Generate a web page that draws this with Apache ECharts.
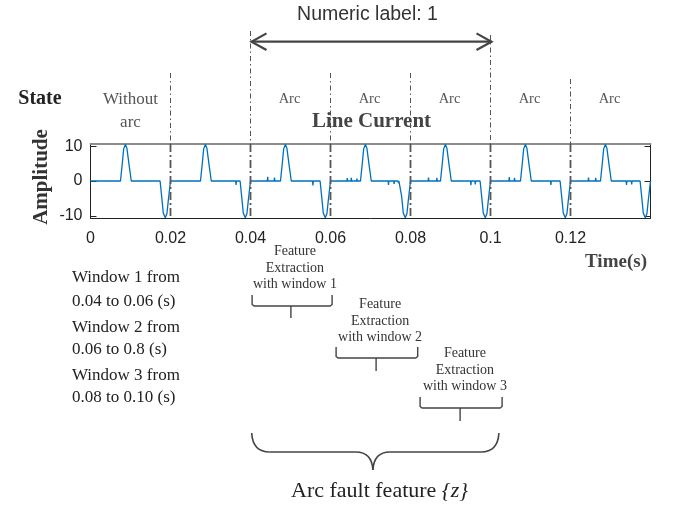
<!DOCTYPE html>
<html><head><meta charset="utf-8">
<script src="https://cdn.jsdelivr.net/npm/echarts@6/dist/echarts.min.js"></script>
<style>html,body{margin:0;padding:0;background:#fff}#c{width:676px;height:512px}</style>
</head><body><div id="c"></div>
<script>
// ---- DATA ----
const time = [
  0, 0.0075, 0.0079, 0.0083, 0.0087, 0.0091, 0.0096, 0.0102,
  0.0174, 0.0178, 0.0182, 0.0187, 0.0191, 0.0195, 0.0200,
  0.0275, 0.0279, 0.0283, 0.0287, 0.0291, 0.0296, 0.0302,
  0.0363, 0.0364, 0.0365,
  0.0374, 0.0378, 0.0382, 0.0387, 0.0391, 0.0395, 0.0400,
  0.0442, 0.0443, 0.0444, 0.0459, 0.0460, 0.0461,
  0.0475, 0.0479, 0.0483, 0.0487, 0.0491, 0.0496, 0.0502,
  0.0555, 0.0556, 0.0557,
  0.0574, 0.0578, 0.0582, 0.0587, 0.0591, 0.0595, 0.0600,
  0.0641, 0.0642, 0.0643, 0.0651, 0.0652, 0.0653, 0.0665, 0.0666, 0.0667,
  0.0675, 0.0679, 0.0683, 0.0687, 0.0691, 0.0696, 0.0702,
  0.0744, 0.0745, 0.0746, 0.0758, 0.0759, 0.0760, 0.0769, 0.0770, 0.0771,
  0.0774, 0.0778, 0.0782, 0.0787, 0.0791, 0.0795, 0.0800,
  0.0844, 0.0845, 0.0846, 0.0865, 0.0866, 0.0867,
  0.0875, 0.0879, 0.0883, 0.0887, 0.0891, 0.0896, 0.0902,
  0.0950, 0.0951, 0.0952, 0.0961, 0.0962, 0.0963,
  0.0974, 0.0978, 0.0982, 0.0987, 0.0991, 0.0995, 0.1000,
  0.1046, 0.1047, 0.1048, 0.1059, 0.1060, 0.1061,
  0.1075, 0.1079, 0.1083, 0.1087, 0.1091, 0.1096, 0.1102,
  0.1150, 0.1151, 0.1152,
  0.1174, 0.1178, 0.1182, 0.1187, 0.1191, 0.1195, 0.1200,
  0.1244, 0.1245, 0.1246, 0.1262, 0.1263, 0.1264,
  0.1275, 0.1279, 0.1283, 0.1287, 0.1291, 0.1296, 0.1302,
  0.1339, 0.1340, 0.1341, 0.1352, 0.1353, 0.1354,
  0.1374, 0.1378, 0.1382, 0.1387, 0.1391, 0.1395, 0.1400
];
const current = [
  0, 0, 4.5, 9.2, 10.5, 9.4, 5, 0,
  0, -4.5, -9.2, -10.5, -9.4, -5, 0,
  0, 4.5, 9.2, 10.5, 9.4, 5, 0,
  0, -1.1, 0,
  0, -4.5, -9.2, -10.5, -9.4, -5, 0,
  0, 1.2, 0, 0, 1.0, 0,
  0, 4.5, 9.2, 10.5, 9.4, 5, 0,
  0, -1.3, 0,
  0, -4.5, -9.2, -10.5, -9.4, -5, 0,
  0, 0.8, 0, 0, 0.9, 0, 0, 0.7, 0,
  0, 4.5, 9.2, 10.5, 9.4, 5, 0,
  0, -1.1, 0, 0, -0.8, 0, 0, -0.6, 0,
  0, -4.5, -9.2, -10.5, -9.4, -5, 0,
  0, 1.0, 0, 0, 0.9, 0,
  0, 4.5, 9.2, 10.5, 9.4, 5, 0,
  0, -1.2, 0, 0, -1.0, 0,
  0, -4.5, -9.2, -10.5, -9.4, -5, 0,
  0, 1.1, 0, 0, 0.9, 0,
  0, 4.5, 9.2, 10.5, 9.4, 5, 0,
  0, -1.1, 0,
  0, -4.5, -9.2, -10.5, -9.4, -5, 0,
  0, 1.0, 0, 0, 0.9, 0,
  0, 4.5, 9.2, 10.5, 9.4, 5, 0,
  0, -1.1, 0, 0, -1.0, 0,
  0, -4.5, -9.2, -10.5, -9.4, -5, 0
];
const xTickValues = [0, 0.02, 0.04, 0.06, 0.08, 0.1, 0.12];
const xTickLabels = ['0', '0.02', '0.04', '0.06', '0.08', '0.1', '0.12'];
const yTickValues = [-10, 0, 10];
const yTickLabels = ['-10', '0', '10'];
const boundaryTimes = [0.02, 0.04, 0.06, 0.08, 0.1, 0.12];
const stateTimes = [0.01, 0.05, 0.07, 0.09, 0.11, 0.13];
const stateLabels = ['Without\narc', 'Arc', 'Arc', 'Arc', 'Arc', 'Arc'];
const windowTexts = ['Window 1 from', '0.04 to 0.06 (s)', 'Window 2 from', '0.06 to 0.8 (s)', 'Window 3 from', '0.08 to 0.10 (s)'];
const featureTexts = ['Feature\nExtraction\nwith window 1', 'Feature\nExtraction\nwith window 2', 'Feature\nExtraction\nwith window 3'];
const arrowSpan = [0.04, 0.1];

// ---- LAYOUT ----
const SERIF = '"Liberation Serif", "Times New Roman", serif';
const SANS = '"Liberation Sans", Arial, sans-serif';
const boundaryTopY = [73, 31, 73, 73, 35, 79];
const windowBracket = [
  {from: 0.0404, to: 0.0604, stem: 0.0501, text: 0.0511, yTop: 295, yH: 306, yStem: 318, tY: 268},
  {from: 0.0614, to: 0.0818, stem: 0.0714, text: 0.0724, yTop: 347, yH: 358, yStem: 371, tY: 321},
  {from: 0.0824, to: 0.1029, stem: 0.0924, text: 0.0936, yTop: 397, yH: 408, yStem: 421, tY: 370}
];
const windowTextY = [278, 301.5, 327.5, 350, 375.5, 398];

const chart = echarts.init(document.getElementById('c'), null, {renderer: 'canvas'});
const data = time.map((t, i) => [t, current[i]]);
function xLabel(v) {
  const i = xTickValues.findIndex(t => Math.abs(t - v) < 1e-9);
  return i >= 0 ? xTickLabels[i] : '';
}
function yLabel(v) {
  const i = yTickValues.findIndex(t => Math.abs(t - v) < 1e-9);
  return i >= 0 ? yTickLabels[i] : '';
}
chart.setOption({
  animation: false,
  backgroundColor: '#fff',
  grid: {left: 90.5, top: 144, width: 560, height: 74, containLabel: false},
  xAxis: [{
    type: 'value', min: 0, max: 0.14, position: 'bottom',
    axisLine: {show: true, onZero: false, lineStyle: {color: '#222', width: 1}},
    axisTick: {show: false},
    splitLine: {show: false},
    axisLabel: {customValues: xTickValues, formatter: xLabel, color: '#222', fontSize: 16, fontFamily: SANS, margin: 13}
  }, {
    type: 'value', min: 0, max: 0.14, position: 'top',
    axisLine: {show: true, onZero: false, lineStyle: {color: '#8c8c8c', width: 2}},
    axisTick: {show: false}, axisLabel: {show: false}, splitLine: {show: false}
  }],
  yAxis: [{
    type: 'value', min: -10.6, max: 10.6, position: 'left',
    axisLine: {show: true, onZero: false, lineStyle: {color: '#222', width: 1}},
    axisTick: {show: true, inside: true, length: 6, customValues: yTickValues, lineStyle: {color: '#222'}},
    splitLine: {show: false},
    axisLabel: {customValues: yTickValues, formatter: yLabel, color: '#222', fontSize: 16, fontFamily: SANS, margin: 8}
  }, {
    type: 'value', min: -10.6, max: 10.6, position: 'right',
    axisLine: {show: true, onZero: false, lineStyle: {color: '#222', width: 1}},
    axisTick: {show: true, inside: true, length: 6, customValues: yTickValues, lineStyle: {color: '#222'}},
    splitLine: {show: false}, axisLabel: {show: false}
  }],
  series: [{
    type: 'line', data: data, xAxisIndex: 0, yAxisIndex: 0,
    showSymbol: false, symbol: 'none',
    lineStyle: {color: '#0072BD', width: 1.3},
    clip: false, z: 2
  }]
});

function px(t, v) { return chart.convertToPixel({gridIndex: 0}, [t, v]); }
const plotTop = px(0, 10.6)[1];
const plotBottom = px(0, -10.6)[1];

const g = [];
const LINE = '#444';
// boundaries
boundaryTimes.forEach((t, i) => {
  const x = px(t, 0)[0];
  g.push({type: 'line', z: 100, shape: {x1: x, y1: boundaryTopY[i], x2: x, y2: plotTop},
    style: {stroke: '#555', lineWidth: 1, lineDash: [5, 3, 1.5, 3]}});
  g.push({type: 'line', z: 100, shape: {x1: x, y1: plotTop, x2: x, y2: plotBottom},
    style: {stroke: '#555', lineWidth: 1.8, lineDash: [8, 3, 2, 3]}});
});
// arrow
const xa = px(arrowSpan[0], 0)[0] + 1, xb = px(arrowSpan[1], 0)[0] + 1, ya = 41.7;
g.push({type: 'line', z: 100, shape: {x1: xa, y1: ya, x2: xb, y2: ya}, style: {stroke: LINE, lineWidth: 2.2}});
g.push({type: 'polyline', z: 100, shape: {points: [[xa + 15, ya - 8.3], [xa, ya], [xa + 15, ya + 8.3]]}, style: {stroke: LINE, lineWidth: 2.2, fill: null}});
g.push({type: 'polyline', z: 100, shape: {points: [[xb - 15, ya - 8.3], [xb, ya], [xb - 15, ya + 8.3]]}, style: {stroke: LINE, lineWidth: 2.2, fill: null}});
g.push({type: 'text', z: 100, x: (xa + xb) / 2 - 4, y: 15, style: {text: 'Numeric label: 1', font: '19.5px ' + SANS, fill: '#333', align: 'center', verticalAlign: 'middle'}});
// state labels
stateLabels.forEach((s, i) => {
  const x = px(stateTimes[i], 0)[0];
  if (i === 0) {
    g.push({type: 'text', z: 100, x: x, y: 111.5, style: {text: s, font: '17px ' + SERIF, fill: '#555', align: 'center', verticalAlign: 'middle', lineHeight: 23}});
  } else {
    g.push({type: 'text', z: 100, x: x - 1, y: 99, style: {text: s, font: '14.5px ' + SERIF, fill: '#555', align: 'center', verticalAlign: 'middle'}});
  }
});
g.push({type: 'text', z: 100, x: 40, y: 99, style: {text: 'State', font: 'bold 20px ' + SERIF, fill: '#222', align: 'center', verticalAlign: 'middle'}});
g.push({type: 'text', z: 100, x: 371.5, y: 122, style: {text: 'Line Current', font: 'bold 21px ' + SERIF, fill: '#444', align: 'center', verticalAlign: 'middle'}});
g.push({type: 'text', z: 100, x: 41.5, y: 177, rotation: Math.PI / 2, style: {text: 'Amplitude', font: 'bold 21px ' + SERIF, fill: '#333', align: 'center', verticalAlign: 'middle'}});
g.push({type: 'text', z: 100, x: 616, y: 262, style: {text: 'Time(s)', font: 'bold 19px ' + SERIF, fill: '#444', align: 'center', verticalAlign: 'middle'}});
// window texts
windowTexts.forEach((s, i) => {
  g.push({type: 'text', z: 100, x: 72, y: windowTextY[i], style: {text: s, font: '17px ' + SERIF, fill: '#222', align: 'left', verticalAlign: 'middle'}});
});
// feature brackets
windowBracket.forEach((b, i) => {
  const x1 = px(b.from, 0)[0], x2 = px(b.to, 0)[0], xm = px(b.stem, 0)[0], xt = px(b.text, 0)[0];
  g.push({type: 'polyline', z: 100, shape: {points: [[x1, b.yTop], [x1, b.yH - 1.5], [x1 + 2, b.yH], [x2 - 2, b.yH], [x2, b.yH - 1.5], [x2, b.yTop]]},
    style: {stroke: LINE, lineWidth: 1.4, fill: null}});
  g.push({type: 'line', z: 100, shape: {x1: xm, y1: b.yH, x2: xm, y2: b.yStem}, style: {stroke: LINE, lineWidth: 1.4}});
  g.push({type: 'text', z: 100, x: xt, y: b.tY, style: {text: featureTexts[i], font: '14px ' + SERIF, fill: '#333', align: 'center', verticalAlign: 'middle', lineHeight: 16.5}});
});
// big brace
const bL = px(0.0403, 0)[0], bR = px(0.1021, 0)[0], bM = px(0.0706, 0)[0];
const bTop = 433, bH = 452, bTip = 470;
const braceStyle = {stroke: LINE, lineWidth: 1.6, fill: null};
g.push({type: 'bezierCurve', z: 100, shape: {x1: bL, y1: bTop, cpx1: bL + 1, cpy1: bH, x2: bL + 18, y2: bH}, style: braceStyle});
g.push({type: 'line', z: 100, shape: {x1: bL + 18, y1: bH, x2: bM - 17, y2: bH}, style: braceStyle});
g.push({type: 'bezierCurve', z: 100, shape: {x1: bM - 17, y1: bH, cpx1: bM - 1, cpy1: bH, x2: bM, y2: bTip}, style: braceStyle});
g.push({type: 'bezierCurve', z: 100, shape: {x1: bM, y1: bTip, cpx1: bM + 1, cpy1: bH, x2: bM + 17, y2: bH}, style: braceStyle});
g.push({type: 'line', z: 100, shape: {x1: bM + 17, y1: bH, x2: bR - 18, y2: bH}, style: braceStyle});
g.push({type: 'bezierCurve', z: 100, shape: {x1: bR - 18, y1: bH, cpx1: bR - 1, cpy1: bH, x2: bR, y2: bTop}, style: braceStyle});
// bottom caption
const meas = document.createElement('canvas').getContext('2d');
const f1 = '22px ' + SERIF, f2 = 'italic 22px ' + SERIF;
meas.font = f1; const w1 = meas.measureText('Arc fault feature ').width;
meas.font = f2; const w2 = meas.measureText('{z}').width;
const cx = 379.5, startX = cx - (w1 + w2) / 2;
g.push({type: 'text', z: 100, x: startX, y: 491, style: {text: 'Arc fault feature ', font: f1, fill: '#222', align: 'left', verticalAlign: 'middle'}});
g.push({type: 'text', z: 100, x: startX + w1, y: 491, style: {text: '{z}', font: f2, fill: '#222', align: 'left', verticalAlign: 'middle'}});

chart.setOption({graphic: g});
</script>
</body></html>
